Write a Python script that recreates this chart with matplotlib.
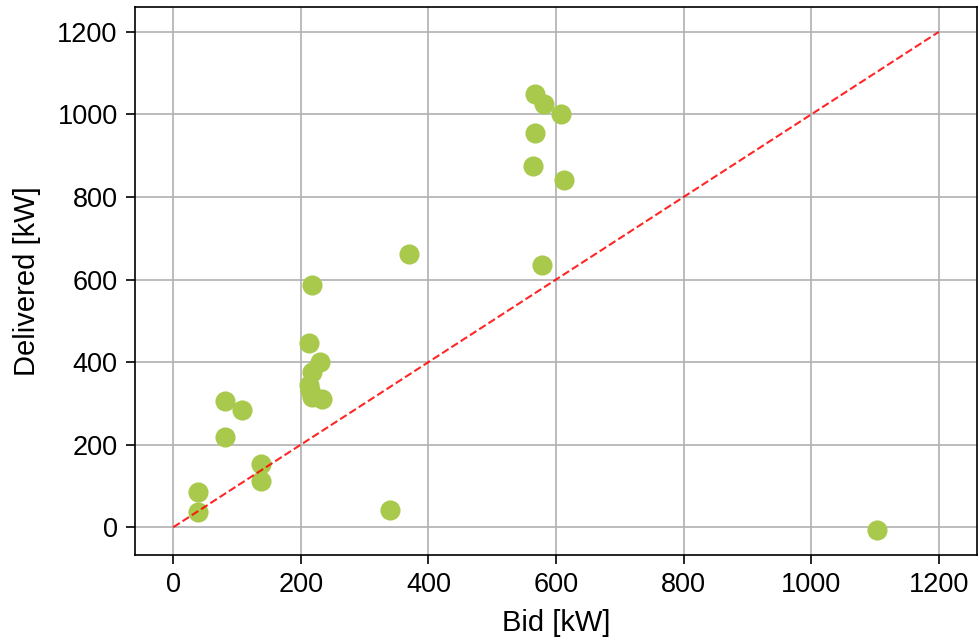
import matplotlib
matplotlib.use("Agg")
import matplotlib.pyplot as plt
import numpy as np

plt.rcParams['font.family'] = ['Liberation Sans', 'DejaVu Sans']

# bid vs delivered power (kW)
bid = [39, 39, 81, 81, 107, 138, 138, 218, 213, 230, 218, 213, 215, 218, 233,
       370, 340, 567, 581, 608, 567, 564, 613, 578, 1104]
delivered = [85, 36, 306, 219, 284, 153, 112, 588, 447, 401, 376, 345, 333, 316, 311,
             663, 41, 1049, 1025, 1000, 955, 874, 840, 636, -7]
diag = [0, 1200]

fig = plt.figure(figsize=(979/150, 642/150), dpi=150)
ax = fig.add_axes([135/979, 1-555/642, (977-135)/979, (555-7)/642])

ax.grid(True, color='#b0b0b0', linewidth=0.8)
ax.set_axisbelow(True)
ax.scatter(bid, delivered, s=75, color='#a8c94b', zorder=3)
ax.plot(diag, diag, '--', color='red', alpha=0.85, linewidth=1.0, zorder=4)

ax.tick_params(labelsize=13, length=4.3, pad=4)
ax.set_xlabel('Bid [kW]', fontsize=14, labelpad=5)
ax.set_ylabel('Delivered [kW]', fontsize=14, labelpad=8)

plt.savefig('out.png', dpi=150)
plt.close()
